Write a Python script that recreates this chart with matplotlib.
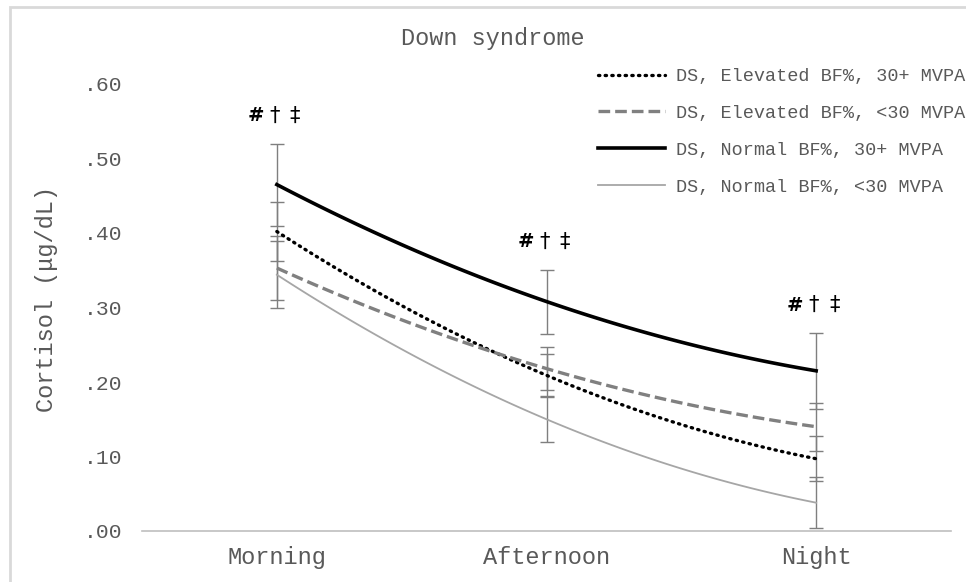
import matplotlib
matplotlib.use("Agg")
import matplotlib.pyplot as plt
import numpy as np
from matplotlib.patches import Rectangle
from matplotlib.ticker import FuncFormatter

# cortisol means and error half-widths per group, by time of day
times = ["Morning", "Afternoon", "Night"]
labels = ["DS, Elevated BF%, 30+ MVPA", "DS, Elevated BF%, <30 MVPA",
          "DS, Normal BF%, 30+ MVPA", "DS, Normal BF%, <30 MVPA"]
elev_30 = [0.402, 0.209, 0.097]
elev_lt30 = [0.353, 0.218, 0.140]
norm_30 = [0.465, 0.308, 0.215]
norm_lt30 = [0.344, 0.150, 0.038]
elev_30_err = [0.040, 0.029, 0.030]
elev_lt30_err = [0.043, 0.029, 0.032]
norm_30_err = [0.055, 0.043, 0.051]
norm_lt30_err = [0.045, 0.031, 0.034]
sig_marks = ["#", "\u2020", "\u2021"]

FONT = "Liberation Mono"
TXT = "#595959"


def smooth(x, y, n=60):
    # cubic hermite through the points; end tangents from a three-point estimate
    x = np.asarray(x, float)
    y = np.asarray(y, float)
    m = np.gradient(y, x, edge_order=2)
    xs, ys = [], []
    t = np.linspace(0, 1, n)
    for i in range(len(x) - 1):
        h = x[i + 1] - x[i]
        h00 = 2 * t**3 - 3 * t**2 + 1
        h10 = t**3 - 2 * t**2 + t
        h01 = -2 * t**3 + 3 * t**2
        h11 = t**3 - t**2
        seg = h00 * y[i] + h10 * h * m[i] + h01 * y[i + 1] + h11 * h * m[i + 1]
        xs.append(x[i] + t * h)
        ys.append(seg)
    return np.concatenate(xs), np.concatenate(ys)


fig = plt.figure(figsize=(9.66, 5.82), dpi=100)
ax = fig.add_axes([142 / 966, 1 - 531 / 582, (951 - 142) / 966, (531 - 84) / 582])

x = np.arange(len(times))
series = [
    (elev_30, elev_30_err, dict(color="black", lw=2.4, ls=(0, (0.4, 1.6)), dash_capstyle="round")),
    (elev_lt30, elev_lt30_err, dict(color="#808080", lw=2.4, ls=(0, (3.5, 1.5)))),
    (norm_30, norm_30_err, dict(color="black", lw=2.6, ls="-")),
    (norm_lt30, norm_lt30_err, dict(color="#a6a6a6", lw=1.3, ls="-")),
]

handles = []
for vals, err, style in series:
    ax.errorbar(x, vals, yerr=err, fmt="none", ecolor="#7f7f7f", elinewidth=1.0,
                capsize=5, capthick=1.0, zorder=2, clip_on=False)
for (vals, err, style), lab in zip(series, labels):
    sx, sy = smooth(x, vals)
    h, = ax.plot(sx, sy, label=lab, zorder=3, **style)
    handles.append(h)

# significance markers above the tallest error bar at each time point
offsets = [-15, -1.5, 13]
for i in range(len(times)):
    top = norm_30[i] + norm_30_err[i]
    for mark, dx in zip(sig_marks, offsets):
        ax.annotate(mark, (x[i], top), xytext=(dx, 20), textcoords="offset points",
                    ha="center", va="center", fontsize=14 if mark == "#" else 15,
                    color="black", family="DejaVu Sans",
                    fontweight="bold" if mark == "#" else "normal")

ax.set_xlim(-0.5, 2.5)
ax.set_ylim(0, 0.6)
ax.set_yticks(np.arange(0, 0.61, 0.1))
ax.yaxis.set_major_formatter(FuncFormatter(lambda v, p: f"{v:.2f}".lstrip("0")))
ax.set_xticks(x)
ax.set_xticklabels(times)
for s in ["top", "right", "left"]:
    ax.spines[s].set_visible(False)
ax.spines["bottom"].set_color("#bfbfbf")
ax.spines["bottom"].set_linewidth(1.2)
ax.tick_params(axis="y", length=0, pad=14, labelsize=15.4, labelcolor=TXT)
ax.tick_params(axis="x", length=0, pad=11, labelsize=17, labelcolor=TXT)
for t in ax.get_xticklabels() + ax.get_yticklabels():
    t.set_family(FONT)
ax.set_ylabel("Cortisol (\u03bcg/dL)", family=FONT, fontsize=17, color=TXT)
ax.yaxis.set_label_coords(-0.104, 0.52)

fig.text(493 / 966, 1 - 39 / 582, "Down syndrome", family=FONT, fontsize=16.9,
         color=TXT, ha="center", va="center")

leg = fig.legend(handles=handles, loc="upper left", bbox_to_anchor=(598 / 966, 1 - 68 / 582),
                 frameon=False, prop={"family": FONT, "size": 13.3}, handlelength=3.6,
                 handletextpad=0.6, labelspacing=1.08, borderpad=0, borderaxespad=0)
for t in leg.get_texts():
    t.set_color(TXT)

# light frame around the chart area
fig.patches.append(Rectangle((10 / 966, -0.1), 1.2, 1.1 - 7 / 582, transform=fig.transFigure,
                             fill=False, edgecolor="#d9d9d9", lw=2, zorder=0))

fig.savefig("out.png", dpi=100)
